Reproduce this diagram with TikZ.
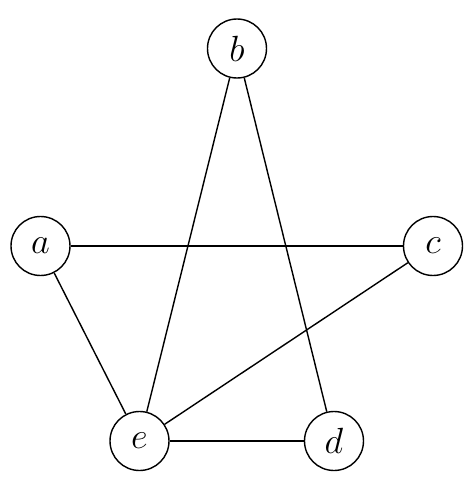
\documentclass[tikz,border=0pt]{standalone}
\usepackage{amsmath,amsfonts}
\usepackage{tikz}

\begin{document}
\begin{tikzpicture}[vertex/.style={circle,draw,line width=0.8pt,minimum size=1.18cm,inner sep=0pt,font=\huge},
    every path/.style={line width=0.8pt}]
   \useasboundingbox (0,0) rectangle (9.48,-9.84);
   \node[vertex] (b) at (4.74,-0.97) {$b$};
   \node[vertex] (a) at (0.81,-4.92) {$a$};
   \node[vertex] (c) at (8.66,-4.92) {$c$};
   \node[vertex] (e) at (2.79,-8.82) {$e$};
   \node[vertex] (d) at (6.68,-8.82) {$d$};

    \path 
    (a) edge (c)
    (a) edge (e)
    (b) edge (e)
    (b) edge (d)
    (c) edge (e)
    (e) edge (d);
\end{tikzpicture}
\end{document}
